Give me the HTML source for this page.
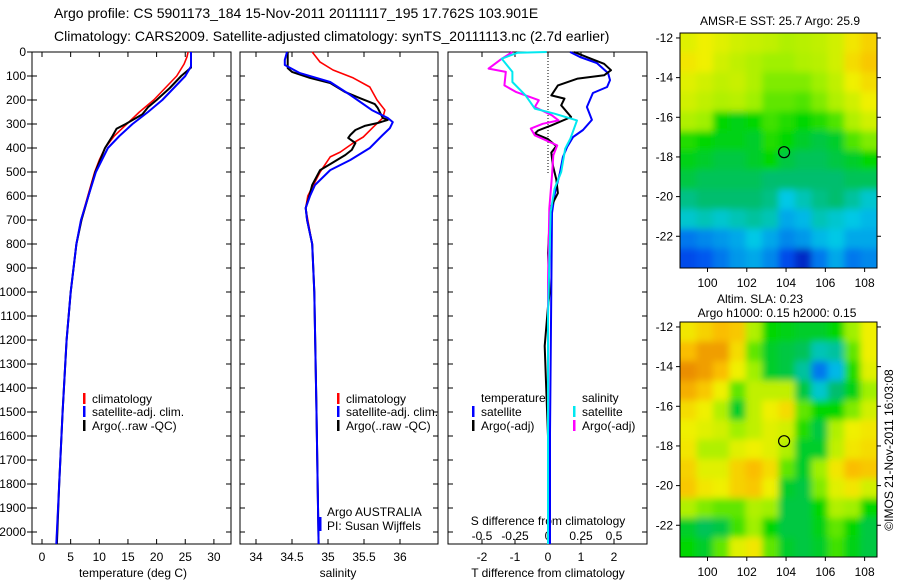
<!DOCTYPE html>
<html><head><meta charset="utf-8"><style>
body{margin:0;background:#fff}
svg{display:block;font-family:"Liberation Sans",sans-serif;font-size:12px}
</style></head><body>
<svg id="c" width="900" height="580" viewBox="0 0 900 580">
<defs>
<filter id="blur" x="-5%" y="-5%" width="110%" height="110%"><feGaussianBlur stdDeviation="3.5"/></filter>
<clipPath id="clip1"><rect x="680" y="33" width="197" height="235"/></clipPath>
<clipPath id="clip2"><rect x="680" y="322" width="197" height="235"/></clipPath>
</defs>
<text x="54" y="18" style="font-size:14px">Argo profile: CS 5901173_184 15-Nov-2011 20111117_195 17.762S 103.901E</text>
<text x="54" y="41" style="font-size:14px">Climatology: CARS2009. Satellite-adjusted climatology: synTS_20111113.nc (2.7d earlier)</text>
<g id="g"></g>
</svg>
<script>
// ---- data ----
const depthTicks=[0,100,200,300,400,500,600,700,800,900,1000,1100,1200,1300,1400,1500,1600,1700,1800,1900,2000];
const tempTicks=[0,5,10,15,20,25,30];
const salTicks=[34,34.5,35,35.5,36];
const tdiffTicks=[-2,-1,0,1,2];
const sdiffTicks=[-0.5,-0.25,0,0.25,0.5];
const sdiffLabels=["-0.5","-0.25","0","0.25","0.5"];
const tClimD=[0,20,50,100,150,200,250,300,350,400,450,500,600,700,800,1000,1200,1500,1800,2050];
const tClimV=[25.5,25.3,24.8,23.5,21.5,19.5,17,14.8,12.6,11,10,9.2,8,6.8,6.0,5.0,4.3,3.6,3.0,2.5];
const tSatD=[0,60,100,150,200,250,300,350,400,500,600,700,800,1000,1200,1500,1800,2050];
const tSatV=[26,26,25,23,21,18.5,15.8,13.5,11.5,9.4,8.1,6.8,6.0,5.0,4.3,3.6,3.0,2.5];
const tArgD=[0,65,100,150,200,230,260,300,320,350,400,500,600,700,800,1000,1200,1500,1800,2050];
const tArgV=[26,26,24.3,22.3,20,18.5,17.5,14.6,13,12.3,11,9.3,8.1,6.9,6.0,5.0,4.3,3.6,3.0,2.6];
const sClimD=[0,42,75,108,146,200,242,275,312,354,379,417,437,500,600,650,700,800,1000,1500,2050];
const sClimV=[34.78,34.89,35.07,35.35,35.58,35.68,35.79,35.76,35.63,35.49,35.35,35.17,35.03,34.89,34.72,34.69,34.72,34.78,34.81,34.84,34.87];
const sSatD=[0,33,54,88,125,179,242,275,292,317,346,400,450,492,554,600,650,700,800,1000,1500,2050];
const sSatV=[34.43,34.4,34.4,34.61,35.03,35.31,35.61,35.83,35.9,35.86,35.76,35.58,35.31,35.03,34.82,34.75,34.69,34.71,34.78,34.81,34.84,34.87];
const sArgD=[0,17,67,83,108,129,167,192,217,233,250,275,283,296,308,325,346,358,379,408,429,467,492,554,600,650,700,800,1000,1500,2050];
const sArgV=[34.44,34.44,34.44,34.5,34.75,35.03,35.24,35.44,35.65,35.69,35.72,35.76,35.83,35.69,35.51,35.38,35.31,35.28,35.38,35.33,35.24,35.03,34.89,34.78,34.74,34.69,34.71,34.78,34.81,34.84,34.87];
const dTsD=[0,21,46,88,117,146,171,229,283,325,354,396,438,504,588,671,1588,2050];
const dTsV=[0.67,0.97,1.48,1.82,1.88,1.79,1.36,1.18,1.33,1.06,0.76,0.58,0.45,0.36,0.21,0.12,0.06,0.06];
const dTaD=[0,28,49,76,97,111,139,181,194,222,271,306,327,340,363,392,419,475,531,588,642,706,838,1004,1061,1225,1421,1600,2050];
const dTaV=[0.79,1.3,1.7,1.91,1.7,0.9,0.3,0.1,0.5,0.4,0.7,0.1,-0.3,-0.4,0,0.25,0.1,0.15,0.25,0.3,0.1,0.05,0,0.05,0,-0.1,-0.05,0,0];
const dSmD=[0,28,69,83,139,167,201,229,264,285,299,319,347,389,431,514,653,960,2050];
const dSmV=[-0.27,-0.35,-0.45,-0.32,-0.33,-0.24,-0.07,-0.1,0.03,0.08,-0.04,-0.13,-0.1,0.07,0.04,0.03,0.01,0,0];
const dScD=[0,3,28,83,125,181,236,257,285,361,403,500,569,667,1100,2050];
const dScV=[-0.01,-0.23,-0.35,-0.27,-0.27,-0.17,-0.1,0.05,0.22,0.17,0.13,0.1,0.05,0.02,0,0];
const mapTicksLat=[-12,-14,-16,-18,-20,-22];
const mapTicksLon=[100,102,104,106,108];
const argoLon=103.9, argoLat=-17.76;
const sstGrid=[
[0.68,0.70,0.68,0.66,0.65,0.64,0.62,0.63,0.64,0.66,0.72,0.76],
[0.72,0.70,0.66,0.64,0.62,0.60,0.60,0.62,0.63,0.66,0.74,0.78],
[0.68,0.66,0.64,0.65,0.62,0.58,0.58,0.58,0.60,0.64,0.70,0.74],
[0.66,0.64,0.62,0.63,0.60,0.56,0.56,0.55,0.58,0.62,0.66,0.70],
[0.62,0.60,0.50,0.48,0.50,0.54,0.52,0.50,0.52,0.55,0.62,0.66],
[0.52,0.50,0.48,0.48,0.46,0.52,0.50,0.46,0.44,0.46,0.55,0.58],
[0.48,0.46,0.44,0.44,0.46,0.50,0.44,0.42,0.42,0.44,0.46,0.50],
[0.44,0.42,0.42,0.42,0.42,0.40,0.40,0.40,0.40,0.40,0.42,0.42],
[0.38,0.40,0.40,0.40,0.40,0.38,0.30,0.34,0.38,0.40,0.36,0.32],
[0.32,0.34,0.32,0.34,0.36,0.34,0.26,0.28,0.34,0.32,0.30,0.28],
[0.20,0.22,0.24,0.26,0.30,0.26,0.22,0.24,0.28,0.30,0.26,0.26],
[0.14,0.16,0.20,0.24,0.26,0.22,0.14,0.08,0.20,0.26,0.20,0.22]];
const slaGrid=[
[0.72,0.76,0.80,0.78,0.62,0.50,0.48,0.46,0.46,0.50,0.60,0.70],
[0.80,0.84,0.84,0.74,0.56,0.46,0.44,0.42,0.34,0.36,0.56,0.70],
[0.86,0.84,0.80,0.70,0.60,0.46,0.44,0.36,0.20,0.28,0.52,0.68],
[0.82,0.78,0.70,0.56,0.64,0.64,0.64,0.44,0.32,0.40,0.48,0.60],
[0.74,0.70,0.62,0.46,0.64,0.70,0.74,0.56,0.50,0.50,0.58,0.66],
[0.70,0.68,0.66,0.60,0.64,0.68,0.66,0.52,0.44,0.62,0.70,0.72],
[0.72,0.62,0.62,0.68,0.70,0.68,0.62,0.46,0.46,0.64,0.72,0.74],
[0.76,0.68,0.68,0.76,0.80,0.74,0.56,0.46,0.60,0.72,0.80,0.78],
[0.78,0.72,0.70,0.76,0.78,0.70,0.46,0.44,0.58,0.68,0.72,0.66],
[0.62,0.58,0.56,0.56,0.62,0.60,0.44,0.44,0.50,0.62,0.60,0.50],
[0.46,0.42,0.44,0.54,0.60,0.50,0.44,0.44,0.48,0.56,0.50,0.44],
[0.50,0.46,0.56,0.68,0.72,0.56,0.46,0.44,0.46,0.54,0.48,0.44]];

// ---- helpers ----
const NS="http://www.w3.org/2000/svg", G=document.getElementById('g');
function mk(t,a,p){const e=document.createElementNS(NS,t);for(const k in a)e.setAttribute(k,a[k]);(p||G).appendChild(e);return e;}
function txt(x,y,s,anchor){const e=mk('text',{x:x,y:y,'text-anchor':anchor||'start'});e.textContent=s;return e;}
const yD=d=>52+d*0.24;
const PY0=52,PY1=544;
const xT=v=>42+v*5.73, xS=v=>256+(v-34)*72, xDT=v=>548+v*33, xDS=v=>548+v*132;
function line(D,V,fx,col,w,name){const p=D.map((d,i)=>fx(V[i]).toFixed(1)+','+yD(d).toFixed(1)).join(' ');
 const e=mk('polyline',{points:p,fill:'none',stroke:col,'stroke-width':w,'stroke-linejoin':'round'});
 
 }
function frame(x0,x1,name){const r=mk('rect',{x:x0,y:PY0,width:x1-x0,height:PY1-PY0,fill:'none',stroke:'#000','stroke-width':1});
 
 
 depthTicks.forEach(d=>{mk('line',{x1:x0,x2:x0+5,y1:yD(d),y2:yD(d),stroke:'#000'});mk('line',{x1:x1,x2:x1-5,y1:yD(d),y2:yD(d),stroke:'#000'});});}
function xticks(ticks,fx,labels,ly){ticks.forEach((t,i)=>{const x=fx(t);mk('line',{x1:x,x2:x,y1:PY1,y2:PY1-5,stroke:'#000'});mk('line',{x1:x,x2:x,y1:PY0,y2:PY0+5,stroke:'#000'});
 if(labels){const e=txt(x,ly,labels[i],'middle');}});}
function legItem(x,y,col,label){mk('rect',{x:x,y:y-10,width:2.5,height:11,fill:col});txt(x+9,y,label);}

// Panel 1 temperature
frame(32,231,'temperature-panel');
depthTicks.forEach(d=>{mk('line',{x1:27,x2:32,y1:yD(d),y2:yD(d),stroke:'#000'});const e=txt(26,yD(d)+4,String(d),'end');});
xticks(tempTicks,xT,tempTicks.map(String),561);
txt(133,577,'temperature (deg C)','middle');
line(tClimD,tClimV,xT,'#f00',1.6,'temp-climatology-line');
line(tArgD,tArgV,xT,'#000',2,'temp-argo-line');
line(tSatD,tSatV,xT,'#0000ff',2,'temp-satellite-line');
legItem(83,403,'#f00','climatology');legItem(83,416,'#0000ff','satellite-adj. clim.');legItem(83,430,'#000','Argo(..raw -QC)');

// Panel 2 salinity
frame(240,438,'salinity-panel');
xticks(salTicks,xS,salTicks.map(String),561);
txt(338,577,'salinity','middle');
line(sClimD,sClimV,xS,'#f00',1.6,'sal-climatology-line');
line(sArgD,sArgV,xS,'#000',2,'sal-argo-line');
line(sSatD,sSatV,xS,'#0000ff',2,'sal-satellite-line');
legItem(337,403,'#f00','climatology');legItem(337,416,'#0000ff','satellite-adj. clim.');legItem(337,430,'#000','Argo(..raw -QC)');
mk('rect',{x:319,y:517,width:2.5,height:14,fill:'#0000ff'});
txt(327,516,'Argo AUSTRALIA');txt(327,530,'PI: Susan Wijffels');

// Panel 3 differences
frame(448,647,'difference-panel');
mk('line',{x1:548,x2:548,y1:52,y2:175,stroke:'#000','stroke-dasharray':'1,2'});
xticks(tdiffTicks,xDT,tdiffTicks.map(String),561);
sdiffLabels.forEach((l,i)=>txt(xDS(sdiffTicks[i]),540,l,'middle'));
txt(548,525,'S difference from climatology','middle');
txt(548,577,'T difference from climatology','middle');
line(dTsD,dTsV,xDT,'#0000ff',2,'tdiff-satellite-line');
line(dTaD,dTaV,xDT,'#000',2,'tdiff-argo-line');
line(dSmD,dSmV,xDS,'#ff00ff',2,'sdiff-argo-line');
line(dScD,dScV,xDS,'#00e8f0',2,'sdiff-satellite-line');
txt(481,402,'temperature');txt(582,402,'salinity');
legItem(472,416,'#0000ff','satellite');legItem(472,430,'#000','Argo(-adj)');
legItem(573,416,'#00e8f0','satellite');legItem(573,430,'#ff00ff','Argo(-adj)');

// maps
const stops=[[0,[0,0,150]],[0.15,[0,80,240]],[0.3,[0,200,230]],[0.4,[0,190,110]],[0.5,[0,215,0]],[0.6,[160,240,0]],[0.7,[240,240,0]],[0.8,[250,190,0]],[0.9,[225,110,0]],[1,[200,60,0]]];
function cmap(v){for(let i=1;i<stops.length;i++){if(v<=stops[i][0]){const a=stops[i-1],b=stops[i],f=(v-a[0])/(b[0]-a[0]);return 'rgb('+a[1].map((c,k)=>Math.round(c+(b[1][k]-c)*f)).join(',')+')';}}return 'rgb(200,60,0)';}
function map(grid,y0,name,clip){const x0=680,x1=877,y1=y0+235,lonL=98.6,lonR=108.63,latT=-11.75,latB=-23.6;
 const fx=l=>x0+(l-lonL)/(lonR-lonL)*(x1-x0), fy=l=>y0+(l-latT)/(latB-latT)*(y1-y0);
 const outer=mk('g',{'clip-path':'url(#'+clip+')'});
 const g=mk('g',{filter:'url(#blur)'},outer);
 const R=grid.length,C=grid[0].length,cw=(x1-x0)/C,ch=(y1-y0)/R;
 grid.forEach((row,r)=>row.forEach((v,c)=>{const e=mk('rect',{x:x0+c*cw-(c==0?10:0),y:y0+r*ch-(r==0?10:0),width:cw+0.6+(c==0||c==C-1?10:0),height:ch+0.6+(r==0||r==R-1?10:0),fill:cmap(v)},g);
  }));
 mk('rect',{x:x0,y:y0,width:x1-x0,height:y1-y0,fill:'none',stroke:'#000'});
 mapTicksLat.forEach(l=>{const y=fy(l);mk('line',{x1:x0,x2:x0-4,y1:y,y2:y,stroke:'#000'});mk('line',{x1:x1,x2:x1+4,y1:y,y2:y,stroke:'#000'});txt(x0-7,y+4,String(l),'end');});
 mapTicksLon.forEach(l=>{const x=fx(l);mk('line',{x1:x,x2:x,y1:y1,y2:y1+4,stroke:'#000'});txt(x,y1+19,String(l),'middle');});
 const c=mk('circle',{cx:fx(argoLon),cy:fy(argoLat),r:5.5,fill:'none',stroke:'#000','stroke-width':1.2});
 }
map(sstGrid,33,'sst-map','clip1');
map(slaGrid,322,'sla-map','clip2');
txt(780,25,'AMSR-E SST: 25.7 Argo: 25.9','middle');
txt(760,303,'Altim. SLA: 0.23','middle');
txt(777,317,'Argo h1000: 0.15 h2000: 0.15','middle');
const cr=txt(0,0,'©IMOS 21-Nov-2011 16:03:08','middle');cr.setAttribute('transform','translate(893,450) rotate(-90)');

</script>
</body></html>
